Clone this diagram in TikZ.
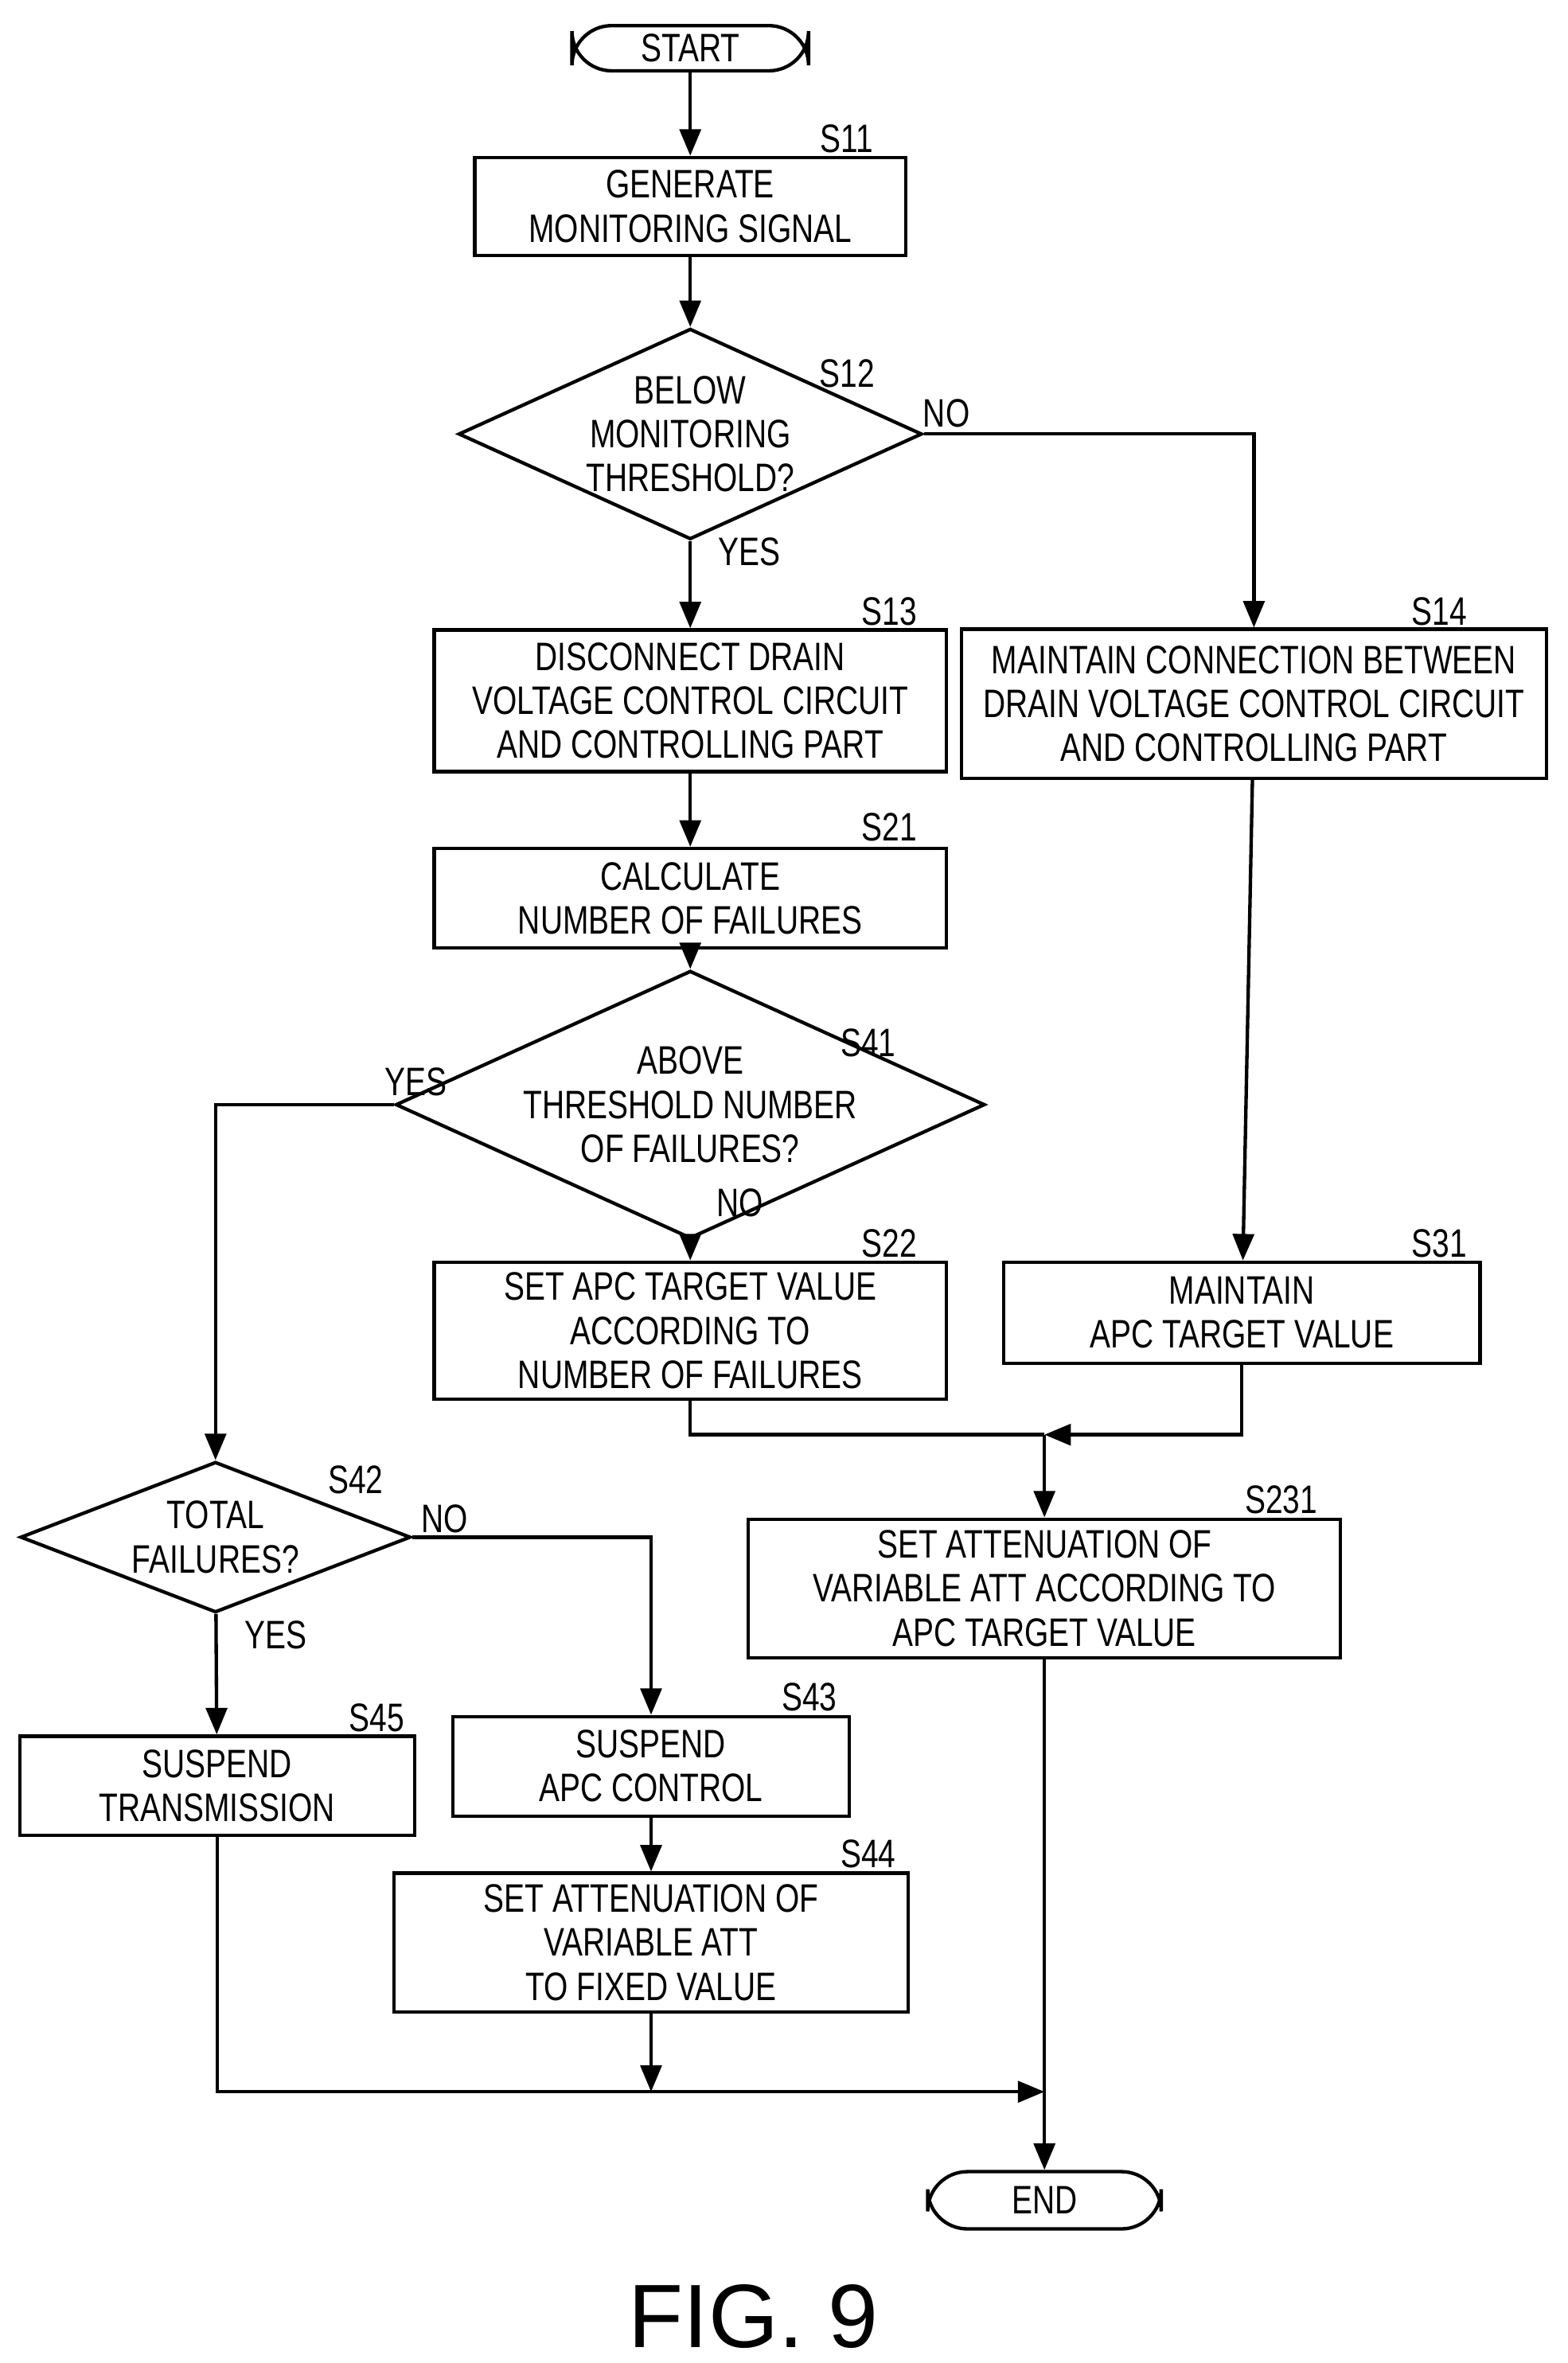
\documentclass[tikz,border=0pt]{standalone}
\usepackage{fontspec}
\setmainfont[FakeStretch=0.78]{Liberation Sans}
\newfontfamily\figfont{Liberation Sans}
\usetikzlibrary{shapes.geometric,arrows.meta}
\begin{document}
\begin{tikzpicture}[x=0.02cm,y=-0.02cm,
  every node/.style={font=\fontsize{15}{16.6}\selectfont,align=center,inner sep=0pt},
  box/.style={draw,line width=1.3pt,rectangle},
  dia/.style={draw,line width=1.3pt,diamond,aspect=2.2},
  term/.style={draw,line width=1.3pt,rounded corners=15pt},
  lab/.style={},
  ln/.style={line width=1.3pt},
  ar/.style={line width=1.3pt,-{Triangle[length=10pt,width=8pt]}}]
\useasboundingbox (0,0) rectangle (1040,1568);
\node[term,minimum width=157\pgflinewidth*0+3.14cm,minimum height=0.6cm] (start) at (458,32) {START};
\node[box,minimum width=5.72cm,minimum height=1.3cm] (s11) at (458,137) {GENERATE\\MONITORING SIGNAL};
\node[dia,minimum width=5.7cm,minimum height=2.56cm] (s12) at (458,288) {BELOW\\MONITORING\\THRESHOLD?};
\node[box,minimum width=6.8cm,minimum height=1.88cm] (s13) at (458,465) {DISCONNECT DRAIN\\VOLTAGE CONTROL CIRCUIT\\AND CONTROLLING PART};
\node[box,minimum width=7.76cm,minimum height=1.98cm] (s14) at (832,467) {MAINTAIN CONNECTION BETWEEN\\DRAIN VOLTAGE CONTROL CIRCUIT\\AND CONTROLLING PART};
\node[box,minimum width=6.8cm,minimum height=1.32cm] (s21) at (458,596) {CALCULATE\\NUMBER OF FAILURES};
\node[dia,minimum width=6.48cm,minimum height=2.26cm] (s41) at (458,733) {ABOVE\\THRESHOLD NUMBER\\OF FAILURES?};
\node[box,minimum width=6.8cm,minimum height=1.82cm] (s22) at (458,883) {SET APC TARGET VALUE\\ACCORDING TO\\NUMBER OF FAILURES};
\node[box,minimum width=6.32cm,minimum height=1.34cm] (s31) at (824,871) {MAINTAIN\\APC TARGET VALUE};
\node[box,minimum width=7.86cm,minimum height=1.84cm] (s231) at (693,1054) {SET ATTENUATION OF\\VARIABLE ATT ACCORDING TO\\APC TARGET VALUE};
\node[dia,minimum width=5.18cm,minimum height=2cm] (s42) at (143,1020) {TOTAL\\FAILURES?};
\node[box,minimum width=5.24cm,minimum height=1.32cm] (s45) at (144,1185) {SUSPEND\\TRANSMISSION};
\node[box,minimum width=5.26cm,minimum height=1.32cm] (s43) at (432,1172) {SUSPEND\\APC CONTROL};
\node[box,minimum width=6.82cm,minimum height=1.84cm] (s44) at (432,1289) {SET ATTENUATION OF\\VARIABLE ATT\\TO FIXED VALUE};
\node[term,minimum width=3.1cm,minimum height=0.76cm] (end) at (693,1460) {END};
\node at (562,92) {S11};
\node at (562,248) {S12};
\node at (628,274) {NO};
\node at (497,366) {YES};
\node at (590,406) {S13};
\node at (955,406) {S14};
\node at (590,549) {S21};
\node at (576,692) {S41};
\node at (276,718) {YES};
\node at (491,798) {NO};
\node at (590,825) {S22};
\node at (955,825) {S31};
\node at (850,995) {S231};
\node at (236,982) {S42};
\node at (295,1008) {NO};
\node at (183,1085) {YES};
\node at (250,1140) {S45};
\node at (537,1126) {S43};
\node at (576,1230) {S44};
\node[font=\figfont\fontsize{34}{40}\selectfont] (fig) at (500,1537) {FIG. 9};
\coordinate (m) at (693,952);
\coordinate (j) at (693,1388);
\draw[ar] (start) -- (s11);
\draw[ar] (s11) -- (s12);
\draw[ar] (s12) -- (s13);
\draw[ar] (s12.east) -| (s14.north);
\draw[ar] (s13) -- (s21);
\draw[ar] (s21) -- (s41);
\draw[ar] (s41) -- (s22);
\draw[ar] (s14) -- (s31);
\draw[ln] (s22.south) |- (m);
\draw[ar] (s31.south) |- (m);
\draw[ar] (m) -- (s231);
\draw[ar] (s41.west) -| (s42.north);
\draw[ar] (s42.east) -| (s43.north);
\draw[ar] (s42) -- (s45);
\draw[ar] (s43) -- (s44);
\draw[ar] (s44.south) -- (432,1388);
\draw[ar] (s45.south) |- (j);
\draw[ar] (s231) -- (end);
\end{tikzpicture}
\end{document}
